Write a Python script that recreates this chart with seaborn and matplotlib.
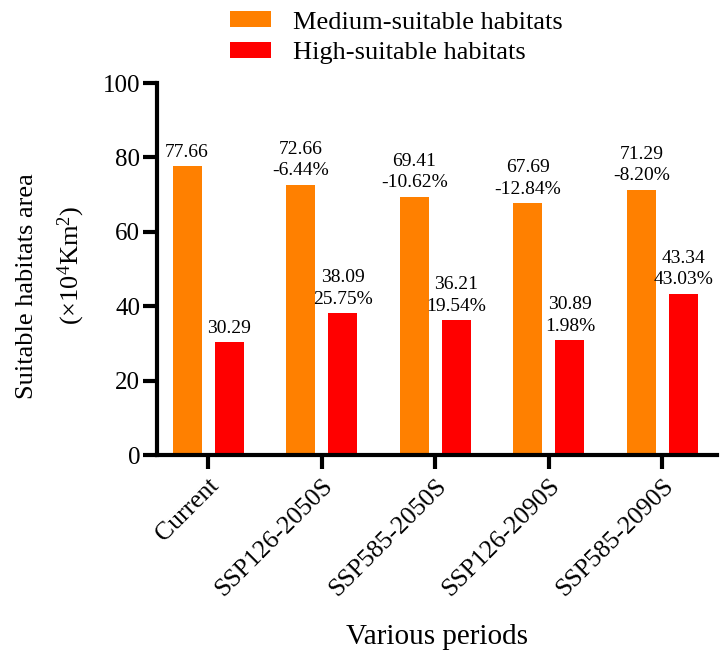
import matplotlib
matplotlib.use("Agg")
import matplotlib.pyplot as plt
import seaborn as sns
import pandas as pd
from matplotlib.patches import Patch

periods = ["Current", "SSP126-2050S", "SSP585-2050S", "SSP126-2090S", "SSP585-2090S"]
medium = [77.66, 72.66, 69.41, 67.69, 71.29]
high = [30.29, 38.09, 36.21, 30.89, 43.34]
medium_pct = ["", "-6.44%", "-10.62%", "-12.84%", "-8.20%"]
high_pct = ["", "25.75%", "19.54%", "1.98%", "43.03%"]
series_names = ["Medium-suitable habitats", "High-suitable habitats"]
colors = ["#FF8000", "#FF0000"]
yticks = [0, 20, 40, 60, 80, 100]

sns.set_style("ticks", {"axes.edgecolor": "black", "text.color": "black",
                        "xtick.color": "black", "ytick.color": "black",
                        "axes.labelcolor": "black"})
plt.rcParams["font.family"] = ["Liberation Serif", "DejaVu Serif"]
plt.rcParams["mathtext.fontset"] = "custom"
plt.rcParams["mathtext.rm"] = "Liberation Serif"
plt.rcParams["mathtext.it"] = "Liberation Serif:italic"

df = pd.DataFrame({
    "period": periods * 2,
    "value": medium + high,
    "series": [series_names[0]] * len(periods) + [series_names[1]] * len(periods),
})

fig = plt.figure(figsize=(7.22, 6.54), dpi=100)
ax = fig.add_axes([157 / 722, 1 - 455 / 654, (717 - 157) / 722, (455 - 83) / 654])

sns.barplot(data=df, x="period", y="value", hue="series", order=periods,
            hue_order=series_names, palette=colors, width=0.74, gap=0.31,
            saturation=1, linewidth=0, ax=ax, legend=False, errorbar=None)

def make_labels(vals, pcts):
    out = []
    for v, p in zip(vals, pcts):
        out.append(f"{v:.2f}" + (f"\n{p}" if p else ""))
    return out

ax.bar_label(ax.containers[0], labels=make_labels(medium, medium_pct), padding=4,
             fontsize=14, linespacing=1.35, color="black")
ax.bar_label(ax.containers[1], labels=make_labels(high, high_pct), padding=4,
             fontsize=14, linespacing=1.35, color="black")

ax.set_ylim(0, 100)
ax.set_yticks(yticks)
ax.set_xlim(-0.45, 4.48)
sns.despine(ax=ax)
for s in ["left", "bottom"]:
    ax.spines[s].set_linewidth(3)
    ax.spines[s].set_color("black")
ax.tick_params(axis="both", width=3, length=10, color="black", labelcolor="black")
ax.tick_params(axis="y", labelsize=18, pad=2)
ax.tick_params(axis="x", labelsize=18.5, pad=4)
for lab in ax.get_xticklabels():
    lab.set_rotation(45)
    lab.set_ha("right")
    lab.set_va("top")
    lab.set_rotation_mode("anchor")

ax.set_xlabel("Various periods", fontsize=21, color="black")
ax.xaxis.set_label_coords(0.5, -0.455)
ax.xaxis.label.set_va("top")
ax.set_ylabel("")
ax.text((27 - 157) / 560, (455 - 286) / 372, "Suitable habitats area", rotation=90,
        ha="center", va="center", fontsize=19, transform=ax.transAxes, color="black")
ax.text((71 - 157) / 560, (455 - 265) / 372, "(×10$^\\mathregular{4}$Km$^\\mathregular{2}$)",
        rotation=90, ha="center", va="center", fontsize=19, transform=ax.transAxes,
        color="black")

handles = [Patch(facecolor=c, edgecolor="none") for c in colors]
fig.legend(handles, series_names, loc="upper left", bbox_to_anchor=(230 / 722, 0.983),
           frameon=False, fontsize=19, handlelength=1.55, handleheight=0.57,
           handletextpad=0.85, labelspacing=0.32, borderpad=0, borderaxespad=0,
           labelcolor="black")

fig.savefig("out.png", dpi=100)
